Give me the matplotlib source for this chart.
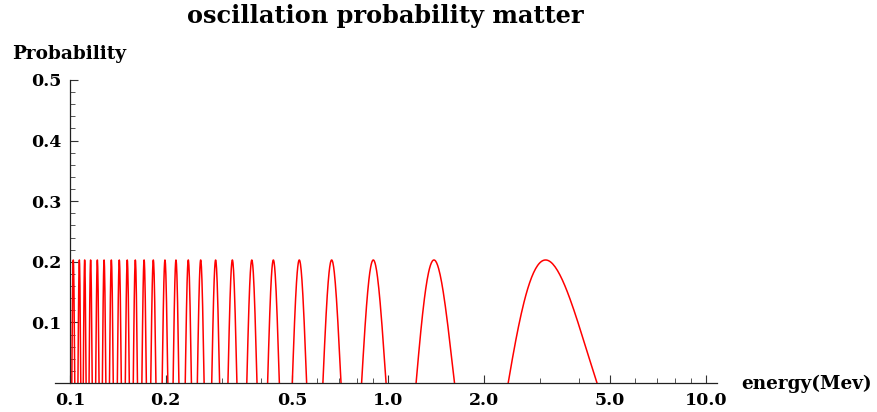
import numpy as np
import matplotlib.pyplot as plt

# peak energies (MeV) of each oscillation lobe
peak_energy = [3.13, 1.395, 0.899, 0.665, 0.526, 0.436, 0.373, 0.324, 0.287,
               0.2576, 0.2355, 0.2154, 0.1989, 0.1828, 0.171, 0.1605, 0.1514,
               0.1429, 0.1349, 0.128, 0.1219, 0.1161, 0.1112, 0.107, 0.1024]
peak_prob = 0.203

x_major = [0.1, 0.2, 0.5, 1.0, 2.0, 5.0, 10.0]
x_labels = ['0.1', '0.2', '0.5', '1.0', '2.0', '5.0', '10.0']
x_minor = [0.3, 0.4, 0.6, 0.7, 0.8, 0.9, 3, 4, 6, 7, 8, 9]
y_major = [0.1, 0.2, 0.3, 0.4, 0.5]
y_labels = ['0.1', '0.2', '0.3', '0.4', '0.5']

# build the lobes: each lobe spans half a period in 1/E around its peak
u_peak = 1.0 / np.array(peak_energy)
xs, ys = [], []
for i, up in enumerate(u_peak):
    if i == 0:
        spacing = u_peak[1] - u_peak[0]
    elif i == len(u_peak) - 1:
        spacing = u_peak[i] - u_peak[i - 1]
    else:
        spacing = (u_peak[i + 1] - u_peak[i - 1]) / 2
    h = spacing / 4
    u = np.linspace(up - h, up + h, 80)
    p = peak_prob * np.cos(np.pi / 2 * (u - up) / h)
    e = 1.0 / u
    keep = e >= 0.1
    xs.extend(list(e[keep]) + [np.nan])
    ys.extend(list(np.clip(p[keep], 0, None)) + [np.nan])

font = {'family': 'DejaVu Serif', 'weight': 'bold'}

fig = plt.figure(figsize=(8.77, 4.12), dpi=100)
ax = fig.add_axes([55 / 877, 29 / 412, 662 / 877, 303 / 412])
ax.plot(xs, ys, color='#ff0000', lw=1.1, clip_on=False)

ax.set_xscale('log')
ax.set_xlim(0.0897, 10.83)
ax.set_ylim(0, 0.5)

ax.spines['left'].set_position(('data', 0.1))
ax.spines['top'].set_visible(False)
ax.spines['right'].set_visible(False)
for s in ['left', 'bottom']:
    ax.spines[s].set_linewidth(0.9)
    ax.spines[s].set_color('#222222')

ax.set_xticks(x_major)
ax.set_xticklabels(x_labels, fontdict=font, fontsize=12.5)
ax.set_xticks(x_minor, minor=True)
ax.xaxis.set_minor_formatter(plt.NullFormatter())
ax.set_yticks(y_major)
ax.set_yticklabels(y_labels, fontdict=font, fontsize=12.5)
ax.set_yticks(np.arange(0.02, 0.5, 0.02), minor=True)

ax.tick_params(which='major', direction='in', length=6, width=0.8, color='#333333')
ax.tick_params(which='minor', direction='in', length=3.5, width=0.7, color='#555555')
ax.tick_params(axis='x', which='major', pad=6.5)
ax.tick_params(axis='y', which='major', pad=6)

fig.text(385.5 / 877, 1 - 23.3 / 412, 'oscillation probability matter',
         ha='center', va='baseline', fontsize=17.3, **font)
fig.text(12 / 877, 1 - 59.3 / 412, 'Probability',
         ha='left', va='baseline', fontsize=13.3, **font)
fig.text(741 / 877, 1 - 389 / 412, 'energy(Mev)',
         ha='left', va='baseline', fontsize=13.3, **font)

plt.savefig('out.png', dpi=100)
